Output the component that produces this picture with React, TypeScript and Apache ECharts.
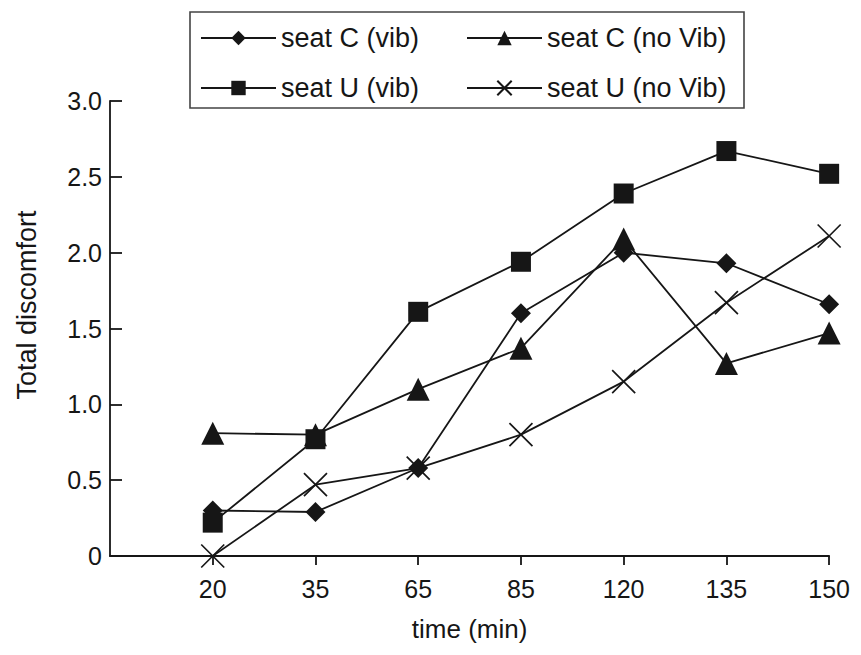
import React, { useEffect, useRef } from "react";
import * as echarts from "echarts";

const timeLabels = ["20", "35", "65", "85", "120", "135", "150"];
const seatCVib = [0.3, 0.29, 0.58, 1.6, 2.0, 1.93, 1.66];
const seatCNoVib = [0.81, 0.8, 1.1, 1.37, 2.09, 1.27, 1.47];
const seatUVib = [0.22, 0.77, 1.61, 1.94, 2.39, 2.67, 2.52];
const seatUNoVib = [0.0, 0.47, 0.58, 0.8, 1.15, 1.67, 2.11];
const yTicks = ["0", "0.5", "1.0", "1.5", "2.0", "2.5", "3.0"];

const FONT = "'Liberation Sans', Arial, Helvetica, sans-serif";
const INK = "#161616";
const CROSS = "path://M0,0L10,10M10,0L0,10";

const toPairs = (vals: number[]) => vals.map((v, i) => [i + 1, v]);

export default function App() {
  const ref = useRef<HTMLDivElement>(null);
  useEffect(() => {
    if (!ref.current) return;
    const chart = echarts.init(ref.current, null, { renderer: "svg" });
    const mk = (name: string, data: number[], symbol: string, size: number, stroke = false) => ({
      name,
      type: "line",
      data: toPairs(data),
      symbol,
      symbolSize: size,
      showSymbol: true,
      lineStyle: { color: INK, width: 1.8 },
      itemStyle: stroke
        ? { color: "rgba(0,0,0,0)", borderColor: INK, borderWidth: 1.7 }
        : { color: INK, borderWidth: 0 },
      emphasis: { disabled: true },
    });
    const legendCommon = {
      orient: "vertical",
      padding: 0,
      itemWidth: 75,
      itemHeight: 18,
      itemGap: 22,
      textStyle: { fontFamily: FONT, fontSize: 27, lineHeight: 28, color: INK },
      inactiveColor: INK,
      selectedMode: false,
    };
    chart.setOption({
      animation: false,
      backgroundColor: "#fff",
      textStyle: { fontFamily: FONT },
      legend: [
        { ...legendCommon, left: 192, top: 16, data: ["seat C (vib)", "seat U (vib)"] },
        { ...legendCommon, left: 458, top: 16, data: ["seat C (no Vib)", "seat U (no Vib)"] },
      ],
      graphic: [
        {
          type: "rect",
          shape: { x: 182, y: 4, width: 554, height: 96 },
          style: { fill: "none", stroke: "#444", lineWidth: 1.6 },
          silent: true,
        },
        {
          type: "text",
          x: 19,
          y: 297,
          rotation: Math.PI / 2,
          style: {
            text: "Total discomfort",
            fontFamily: FONT,
            fontSize: 27,
            fill: INK,
            align: "center",
            verticalAlign: "middle",
          },
          silent: true,
        },
      ],
      grid: { left: 102, right: 18, top: 93, bottom: 87, containLabel: false },
      xAxis: {
        type: "value",
        min: 0,
        max: timeLabels.length,
        interval: 1,
        name: "time (min)",
        nameLocation: "middle",
        nameGap: 60,
        nameTextStyle: { fontFamily: FONT, fontSize: 26, color: INK },
        axisLine: { lineStyle: { color: INK, width: 1.8 } },
        axisTick: {
          show: true,
          inside: false,
          length: 9,
          lineStyle: { color: INK, width: 1.8 },
          customValues: timeLabels.map((_, i) => i + 1),
        },
        axisLabel: {
          fontFamily: FONT,
          fontSize: 25,
          color: INK,
          margin: 20,
          customValues: timeLabels.map((_, i) => i + 1),
          formatter: (v: number) => (v >= 1 && v <= timeLabels.length ? timeLabels[v - 1] : ""),
        },
        splitLine: { show: false },
      },
      yAxis: {
        type: "value",
        min: 0,
        max: 3,
        interval: 0.5,
        axisLine: { show: true, lineStyle: { color: INK, width: 1.8 } },
        axisTick: { show: true, inside: true, length: 12, lineStyle: { color: INK, width: 1.8 } },
        axisLabel: {
          fontFamily: FONT,
          fontSize: 25,
          color: INK,
          margin: 8,
          formatter: (v: number) => yTicks[Math.round(v * 2)] ?? "",
        },
        splitLine: { show: false },
      },
      series: [
        mk("seat C (vib)", seatCVib, "diamond", 20),
        mk("seat C (no Vib)", seatCNoVib, "triangle", 23),
        mk("seat U (vib)", seatUVib, "rect", 20),
        mk("seat U (no Vib)", seatUNoVib, CROSS, 23, true),
      ],
    });
    return () => chart.dispose();
  }, []);
  return <div ref={ref} style={{ width: 845, height: 639 }} />;
}
